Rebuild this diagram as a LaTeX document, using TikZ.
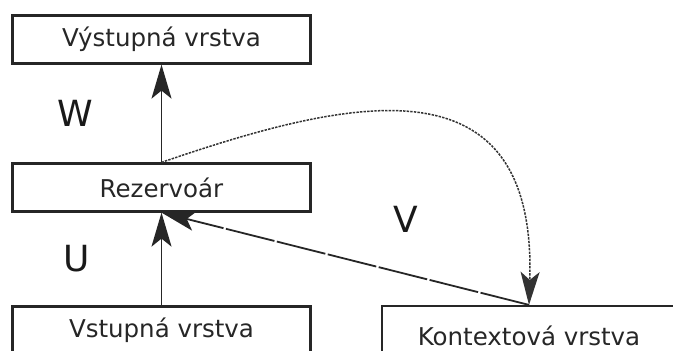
\documentclass[tikz,border=0pt]{standalone}
\usepackage{fontspec}
\setmainfont{DejaVu Sans}
\usetikzlibrary{arrows.meta}
\begin{document}
\begin{tikzpicture}[x=1pt,y=-1pt,
  layer/.style={draw=black!85,line width=2.2pt,inner sep=0pt,minimum width=298pt,minimum height=48pt,
    text=black!85,font=\fontsize{24.5}{28}\selectfont},
  lbl/.style={text=black!90,font=\fontsize{36}{40}\selectfont,inner sep=0pt},
  conn/.style={line width=1.8pt,draw=black!85,-{Stealth[length=34pt,width=20pt,inset=8pt]}}]
\useasboundingbox (0,0) rectangle (673,351);
\clip (0,0) rectangle (673,351);
\node[layer] (out) at (161.5,39.5) {Výstupná vrstva};
\node[layer] (res) at (161.5,187.5) {Rezervoár};
\node[layer] (inp) at (161.5,330.5) {Vstupná vrstva};
\node[layer,minimum width=294pt,minimum height=60pt] (ctx) at (529,336) {Kontextová vrstva};
\draw[conn] (res.north) -- (out.south);
\draw[conn] (inp.north) -- (res.south);
\draw[conn,dash pattern=on 50pt off 2.5pt] (ctx.north) -- (res.south);
\draw[line width=1.5pt,draw=black!80,dash pattern=on 2.4pt off 1.2pt,
  -{Stealth[length=33pt,width=19pt,inset=8pt]}]
  (res.north) .. controls +(189,-65) and +(8,-250) .. (ctx.north);
\node[lbl] (w) at (75.5,113.5) {W};
\node[lbl] (u) at (76.5,259) {U};
\node[lbl] (v) at (406,219.5) {V};
\end{tikzpicture}
\end{document}
